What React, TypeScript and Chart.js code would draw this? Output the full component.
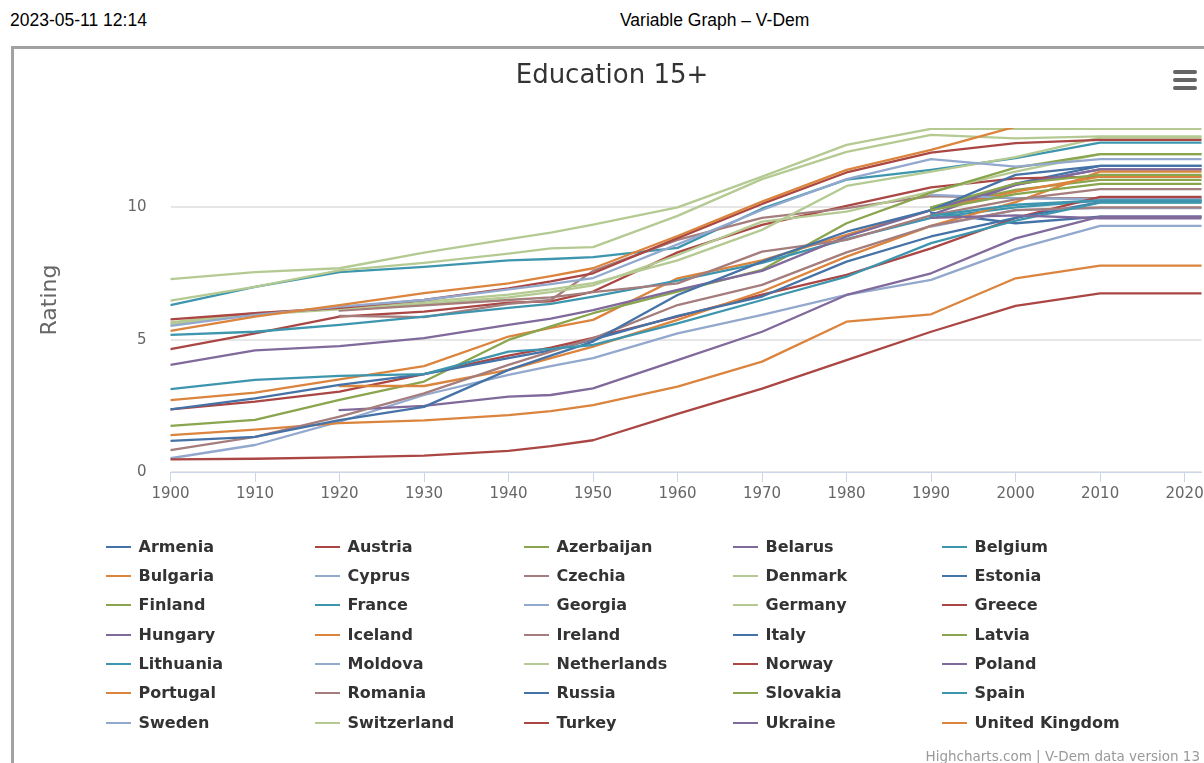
import React, { useEffect, useRef } from "react";
import { Chart, registerables } from "chart.js";

Chart.register(...registerables);

// ---------- data ----------
const years = [1900, 1910, 1920, 1930, 1940, 1945, 1950, 1960, 1970, 1980, 1990, 2000, 2010, 2022];
const N = null;

const armenia = [N, N, N, N, N, N, N, N, N, N, 9.9, 10.9, 11.57, 11.57];
const austria = [4.64, 5.24, 5.87, 6.06, 6.4, 6.45, 6.82, 8.3, 9.34, 10.06, 10.76, 11.1, 11.16, 11.16];
const azerbaijan = [N, N, N, N, N, N, N, N, N, N, 9.97, 10.66, 11.04, 11.04];
const belarus = [N, N, N, N, N, N, N, N, N, N, 9.72, 10.85, 11.44, 11.44];
const belgium = [6.31, 7.0, 7.55, 7.75, 8.0, 8.05, 8.12, 8.47, 9.95, 11.05, 11.42, 11.86, 12.45, 12.45];
const bulgaria = [2.72, 3.0, 3.5, 4.0, 5.12, 5.45, 5.75, 7.32, 8.0, 8.96, 9.9, 10.6, 11.16, 11.16];
const cyprus = [0.52, 1.02, 1.9, 2.91, 3.67, 4.0, 4.3, 5.24, 5.94, 6.69, 7.26, 8.42, 9.3, 9.3];
const czechia = [N, N, 5.9, 5.85, 6.35, 6.5, 7.6, 8.77, 9.6, 9.97, 10.43, 10.35, 10.35, 10.35];
const denmark = [5.6, 5.95, 6.15, 6.35, 6.6, 6.8, 7.05, 8.2, 9.46, 9.84, 10.6, 11.35, 12.01, 12.01];
const estonia = [N, N, N, N, N, N, N, N, N, N, 9.8, 9.4, 9.65, 9.65];
const finland = [1.74, 1.97, 2.73, 3.42, 4.99, 5.5, 6.0, 6.82, 7.64, 9.4, 10.56, 11.5, 12.01, 12.01];
const france = [5.18, 5.3, 5.56, 5.87, 6.2, 6.35, 6.63, 7.23, 7.9, 8.8, 9.6, 10.0, 10.26, 10.26];
const georgia = [N, N, N, N, N, N, N, N, N, N, 10.47, 10.35, 10.3, 10.3];
const germany = [6.48, 7.0, 7.62, 7.9, 8.25, 8.45, 8.5, 9.68, 11.07, 12.1, 12.74, 12.61, 12.68, 12.68];
const greece = [2.37, 2.66, 3.04, 3.7, 4.4, 4.7, 5.07, 5.87, 6.7, 7.45, 8.45, 9.6, 10.4, 10.4];
const hungary = [4.05, 4.6, 4.76, 5.06, 5.56, 5.8, 6.12, 6.88, 7.6, 8.9, 9.9, 10.85, 11.44, 11.44];
const iceland = [N, N, 3.25, 3.25, 3.86, 4.3, 4.74, 5.75, 6.82, 8.14, 9.3, 10.2, 11.35, 11.35];
const ireland = [N, N, 6.1, 6.3, 6.5, 6.6, 6.8, 7.13, 8.33, 8.77, 9.7, 10.3, 10.69, 10.69];
const italy = [2.37, 2.78, 3.29, 3.7, 4.3, 4.6, 5.0, 5.9, 6.63, 7.95, 8.9, 9.6, 10.2, 10.2];
const latvia = [N, N, N, N, N, N, N, N, N, N, 10.0, 10.9, 11.23, 11.23];
const lithuania = [N, N, N, N, N, N, N, N, N, N, 9.68, 10.1, 10.26, 10.26];
const moldova = [N, N, N, N, N, N, N, N, N, N, 9.27, 9.9, 9.97, 9.97];
const netherlands = [5.65, 6.0, 6.17, 6.43, 6.7, 6.9, 7.14, 8.0, 9.15, 10.81, 11.35, 11.9, 12.64, 12.64];
const norway = [5.77, 6.0, 6.2, 6.5, 6.94, 7.2, 7.51, 8.84, 10.13, 11.32, 12.07, 12.43, 12.55, 12.55];
const poland = [N, N, 2.34, 2.5, 2.85, 2.91, 3.16, 4.23, 5.3, 6.69, 7.51, 8.83, 9.65, 9.65];
const portugal = [1.39, 1.6, 1.85, 1.95, 2.15, 2.3, 2.53, 3.23, 4.17, 5.68, 5.96, 7.32, 7.8, 7.8];
const romania = [0.83, 1.33, 2.09, 2.97, 4.05, 4.55, 5.05, 6.31, 7.07, 8.3, 9.3, 9.9, 10.0, 10.0];
const russia = [1.18, 1.33, 1.96, 2.46, 3.86, 4.4, 4.93, 6.69, 7.95, 9.08, 9.9, 11.23, 11.57, 11.57];
const slovakia = [N, N, N, N, N, N, N, N, N, N, 9.9, 10.5, 10.89, 10.89];
const spain = [3.13, 3.48, 3.63, 3.7, 4.55, 4.65, 4.8, 5.62, 6.5, 7.38, 8.65, 9.5, 10.18, 10.18];
const sweden = [5.52, 5.94, 6.25, 6.5, 6.9, 7.1, 7.33, 8.6, 9.9, 11.07, 11.82, 11.54, 11.82, 11.82];
const switzerland = [7.29, 7.55, 7.7, 8.29, 8.8, 9.05, 9.35, 10.0, 11.16, 12.36, 12.97, 12.97, 12.97, 12.97];
const turkey = [0.48, 0.5, 0.55, 0.62, 0.8, 0.98, 1.2, 2.2, 3.15, 4.23, 5.3, 6.28, 6.75, 6.75];
const ukraine = [N, N, N, N, N, N, N, N, N, N, 9.6, 9.7, 9.59, 9.59];
const unitedKingdom = [5.33, 5.87, 6.31, 6.76, 7.13, 7.4, 7.7, 8.92, 10.22, 11.42, 12.17, 13.05, 13.4, 13.4];

const countries = [
  "Armenia", "Austria", "Azerbaijan", "Belarus", "Belgium",
  "Bulgaria", "Cyprus", "Czechia", "Denmark", "Estonia",
  "Finland", "France", "Georgia", "Germany", "Greece",
  "Hungary", "Iceland", "Ireland", "Italy", "Latvia",
  "Lithuania", "Moldova", "Netherlands", "Norway", "Poland",
  "Portugal", "Romania", "Russia", "Slovakia", "Spain",
  "Sweden", "Switzerland", "Turkey", "Ukraine", "United Kingdom",
];

const seriesValues = [
  armenia, austria, azerbaijan, belarus, belgium,
  bulgaria, cyprus, czechia, denmark, estonia,
  finland, france, georgia, germany, greece,
  hungary, iceland, ireland, italy, latvia,
  lithuania, moldova, netherlands, norway, poland,
  portugal, romania, russia, slovakia, spain,
  sweden, switzerland, turkey, ukraine, unitedKingdom,
];

const BLUE = "#4572A7";
const RED = "#AA4643";
const GREEN = "#89A54E";
const PURPLE = "#80699B";
const TEAL = "#3D96AE";
const ORANGE = "#DB843D";
const LBLUE = "#92A8CD";
const BROWN = "#A47D7C";
const LGREEN = "#B5CA92";

const seriesColors = [
  BLUE, RED, GREEN, PURPLE, TEAL,
  ORANGE, LBLUE, BROWN, LGREEN, BLUE,
  GREEN, TEAL, LBLUE, LGREEN, RED,
  PURPLE, ORANGE, BROWN, BLUE, GREEN,
  TEAL, LBLUE, LGREEN, RED, PURPLE,
  ORANGE, BROWN, BLUE, GREEN, TEAL,
  LBLUE, LGREEN, RED, PURPLE, ORANGE,
];

const FONT = "'DejaVu Sans', Verdana, sans-serif";

export default function App() {
  const canvasRef = useRef<HTMLCanvasElement | null>(null);

  useEffect(() => {
    const canvas = canvasRef.current;
    if (!canvas) return;
    Chart.defaults.font.family = FONT;
    const datasets = countries.map((name, i) => ({
      label: name,
      data: years
        .map((yr, j) => ({ x: yr, y: seriesValues[i][j] }))
        .filter((p) => p.y !== null),
      borderColor: seriesColors[i],
      backgroundColor: seriesColors[i],
      borderWidth: 2.3,
      pointRadius: 0,
      pointHoverRadius: 0,
      tension: 0,
      fill: false,
      clip: 0,
      borderJoinStyle: "round" as const,
      borderCapStyle: "round" as const,
      order: -i,
    }));

    const chart = new Chart(canvas, {
      type: "line",
      data: { datasets },
      options: {
        animation: false,
        responsive: false,
        maintainAspectRatio: false,
        events: [],
        layout: { padding: { left: 0, right: 2.5, top: 128, bottom: 0 } },
        plugins: {
          legend: { display: false },
          tooltip: { enabled: false },
          title: { display: false },
        },
        scales: {
          x: {
            type: "linear",
            min: 1900,
            max: 2022,
            ticks: {
              stepSize: 10,
              includeBounds: false,
              autoSkip: false,
              maxRotation: 0,
              minRotation: 0,
              padding: 3,
              color: "#666666",
              font: { family: FONT, size: 15 },
              callback: (v: any) => String(v),
            },
            grid: {
              drawOnChartArea: false,
              drawTicks: true,
              tickLength: 10,
              color: "#ccd6eb",
            },
            border: { color: "#ccd6eb", width: 1 },
            afterFit: (s: any) => {
              s.height = 291;
              s.paddingLeft = 0;
              s.paddingRight = 0;
            },
          },
          y: {
            type: "linear",
            min: 0,
            max: 13,
            ticks: {
              stepSize: 5,
              includeBounds: false,
              padding: 24,
              color: "#666666",
              font: { family: FONT, size: 15 },
            },
            grid: { color: "#e6e6e6", drawTicks: false, lineWidth: 2 },
            border: { display: false },
            title: {
              display: true,
              text: "Rating",
              color: "#666666",
              font: { family: FONT, size: 22 },
              padding: { top: 37, bottom: 0 },
            },
            afterFit: (s: any) => {
              s.width = 170.5;
              s.paddingTop = 0;
              s.paddingBottom = 0;
            },
          },
        },
      },
    });
    return () => chart.destroy();
  }, []);

  const colX = [106, 315, 524, 733, 942];
  const rowY0 = 546.7;
  const rowH = 29.3;

  return (
    <div
      style={{
        position: "fixed",
        left: 0,
        top: 0,
        width: 1204,
        height: 763,
        overflow: "hidden",
        background: "#ffffff",
      }}
    >
      <div
        style={{
          position: "absolute",
          left: 10,
          top: 10,
          fontFamily: "'Liberation Sans', Arial, sans-serif",
          fontSize: 17.5,
          lineHeight: "20px",
          color: "#000",
          whiteSpace: "nowrap",
        }}
      >
        2023-05-11 12:14
      </div>
      <div
        style={{
          position: "absolute",
          left: 620,
          top: 10,
          fontFamily: "'Liberation Sans', Arial, sans-serif",
          fontSize: 17.5,
          lineHeight: "20px",
          color: "#000",
          whiteSpace: "nowrap",
        }}
      >
        Variable Graph – V-Dem
      </div>
      <div
        style={{
          position: "absolute",
          left: 11,
          top: 46,
          width: 1400,
          height: 900,
          border: "3px solid #a2a2a2",
          boxSizing: "border-box",
        }}
      />
      <canvas
        ref={canvasRef}
        width={1204}
        height={763}
        style={{ position: "absolute", left: 0, top: 0, width: 1204, height: 763 }}
      />
      <div
        style={{
          position: "absolute",
          left: 14,
          width: 1196,
          top: 59,
          textAlign: "center",
          fontFamily: FONT,
          fontSize: 26,
          lineHeight: "30px",
          color: "#333333",
          whiteSpace: "nowrap",
        }}
      >
        Education 15+
      </div>
      {[0, 1, 2].map((k) => (
        <div
          key={k}
          style={{
            position: "absolute",
            left: 1173,
            top: 70 + k * 8,
            width: 24,
            height: 4,
            borderRadius: 2,
            background: "#666666",
          }}
        />
      ))}
      {countries.map((name, i) => {
        const c = i % 5;
        const r = Math.floor(i / 5);
        const cy = Math.round(rowY0 + r * rowH);
        return (
          <React.Fragment key={name}>
            <div
              style={{
                position: "absolute",
                left: colX[c],
                top: cy - 1,
                width: 25,
                height: 2,
                background: seriesColors[i],
              }}
            />
            <div
              style={{
                position: "absolute",
                left: colX[c] + 32.5,
                top: cy - 10,
                fontFamily: FONT,
                fontWeight: "bold",
                fontSize: 16,
                lineHeight: "20px",
                color: "#333333",
                whiteSpace: "nowrap",
              }}
            >
              {name}
            </div>
          </React.Fragment>
        );
      })}
      <div
        style={{
          position: "absolute",
          right: 4,
          top: 748,
          fontFamily: FONT,
          fontSize: 13.5,
          lineHeight: "16px",
          color: "#999999",
          whiteSpace: "nowrap",
        }}
      >
        Highcharts.com | V-Dem data version 13
      </div>
    </div>
  );
}
